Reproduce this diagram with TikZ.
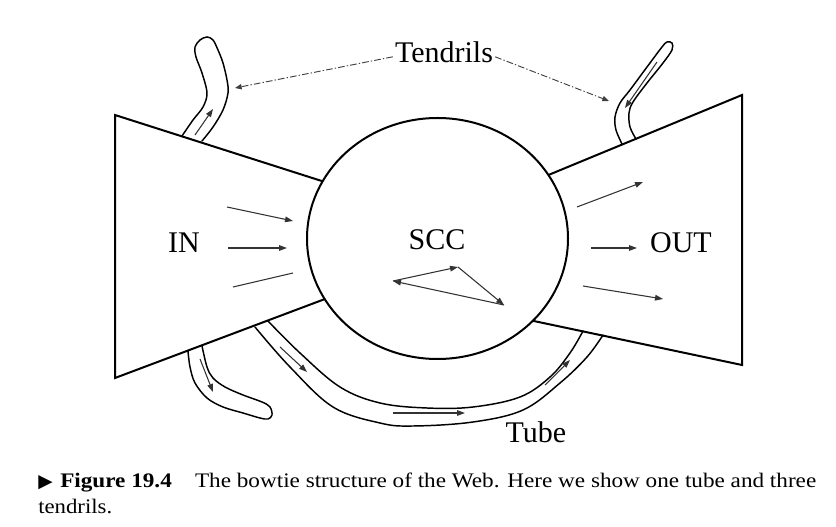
\documentclass[tikz,border=0pt]{standalone}
\usepackage{fontspec}
\setmainfont{Liberation Serif}
\newfontfamily\symfont{DejaVu Sans}
\usetikzlibrary{arrows.meta}
\begin{document}
\begin{tikzpicture}[x=0.75pt,y=-0.75pt,
  bow/.style={line width=1.5pt, line join=miter},
  tend/.style={line width=1.1pt, line cap=round},
  arr/.style={line width=0.8pt, draw=black!80, -{Triangle[length=6pt,width=4.2pt]}},
  plain/.style={line width=0.8pt, draw=black!80},
  lbltext/.style={font=\fontsize{22.5pt}{24pt}\selectfont, inner sep=0pt},
  captext/.style={font=\fontsize{15.5pt}{18pt}\selectfont, inner sep=0pt, anchor=base west},
  dd/.style={line width=0.7pt, draw=black!75, dash pattern=on 5pt off 1.6pt on 1pt off 1.6pt, -{Triangle[length=5pt,width=4pt]}}]
\useasboundingbox (0,0) rectangle (836,527);
% SCC ellipse
\coordinate (c) at (437.5,238.5);
\draw[bow] (c) ellipse [x radius=97.875pt, y radius=90.375pt];
% junction points
\coordinate (lt) at (322.7,181.3);
\coordinate (lb) at (324.7,299.1);
\coordinate (rt) at (548.4,175);
\coordinate (rb) at (532.8,320.8);
\coordinate (ltl) at (115,115);
\coordinate (lbot) at (115,378);
\coordinate (rtr) at (742,95);
\coordinate (rbr) at (742,365);
\draw[bow] (lt) -- (ltl) -- (lbot) -- (lb);
\draw[bow] (rt) -- (rtr) -- (rbr) -- (rb);
% labels
\node[lbltext] (in) at (184,243) {IN};
\node[lbltext] (scc) at (437,240) {SCC};
\node[lbltext] (out) at (681,243) {OUT};
\node[lbltext] (tube) at (536,432) {Tube};
\node[lbltext] (tendrils) at (444,52) {Tendrils};
% tendrils pointer arrows
\coordinate (tl) at (235,88);
\coordinate (tr) at (609,101);
\draw[dd] (tendrils.south west) ++(-2,-6) -- (tl);
\draw[dd] (tendrils.south east) ++(2,-6) -- (tr);
% IN arrows
\coordinate (i1a) at (227,207); \coordinate (i1b) at (293,221);
\coordinate (i2a) at (228,248); \coordinate (i2b) at (287,248);
\coordinate (i3a) at (233,287); \coordinate (i3b) at (293,273);
\draw[arr] (i1a) -- (i1b);
\draw[arr] (i2a) -- (i2b);
\draw[plain] (i3a) -- (i3b);
% OUT arrows
\coordinate (o1a) at (577,207); \coordinate (o1b) at (643,182);
\coordinate (o2a) at (591,248); \coordinate (o2b) at (637,248);
\coordinate (o3a) at (583,286); \coordinate (o3b) at (663,299);
\draw[arr] (o1a) -- (o1b);
\draw[arr] (o2a) -- (o2b);
\draw[arr] (o3a) -- (o3b);
% SCC triangle
\coordinate (ta) at (393,281);
\coordinate (tb) at (458,267);
\coordinate (tc) at (504,305);
\draw[arr] (ta) -- (tb);
\draw[arr] (tb) -- (tc);
\draw[arr] (tc) -- (ta);
% top-left tendril
\draw[tend] plot[smooth, tension=0.55] coordinates {(182,136) (193,120) (203,107) (207,93) (202,73) (196,57) (195,47) (200,40) (207,37) (213,40) (218,50) (223,63) (227,80) (228,93) (223,110) (213,127) (202,141)};
\coordinate (tla) at (195,135); \coordinate (tlb) at (213,109);
\draw[arr] (tla) -- (tlb);
% top-right tendril
\draw[tend] plot[smooth, tension=0.55] coordinates {(622,144) (616,130) (615,117) (620,103) (630,90) (647,67) (662,47) (667,42) (672,43) (672,50) (663,63) (647,83) (633,102) (629,113) (630,127) (636,139)};
\coordinate (tra) at (657,62); \coordinate (trb) at (625,108);
\draw[arr] (tra) -- (trb);
% bottom-left tendril
\draw[tend] plot[smooth, tension=0.55] coordinates {(188,351) (190,367) (195,383) (207,398) (223,407) (243,413) (260,418) (268,419) (272,415) (270,407) (262,402) (243,395) (225,387) (213,378) (207,367) (202,346)};
\coordinate (bla) at (200,359); \coordinate (blb) at (213,392);
\draw[arr] (bla) -- (blb);
% tube
\draw[tend] plot[smooth, tension=0.6] coordinates {(255,327) (290,367) (333,407) (380,423) (413,426) (473,422) (523,410) (560,383) (587,357) (603,335)};
\draw[tend] plot[smooth, tension=0.6] coordinates {(268,321) (300,353) (340,387) (380,403) (427,408) (473,407) (520,397) (550,377) (570,353) (583,331)};
\coordinate (t1a) at (280,347); \coordinate (t1b) at (307,372);
\coordinate (t2a) at (393,413); \coordinate (t2b) at (465,413);
\coordinate (t3a) at (545,385); \coordinate (t3b) at (570,360);
\draw[arr] (t1a) -- (t1b);
\draw[arr] (t2a) -- (t2b);
\draw[arr] (t3a) -- (t3b);
% caption
\node[captext] (tri) at (38,488) {\symfont\fontsize{14pt}{14pt}\selectfont ▶};
\node[captext] (cap1) at (60,488) {\resizebox{567pt}{\height}{\textbf{Figure 19.4}\quad The bowtie structure of the Web. Here we show one tube and three}};
\node[captext] (cap2) at (38,513) {\resizebox{55.5pt}{\height}{tendrils.}};
\end{tikzpicture}
\end{document}
